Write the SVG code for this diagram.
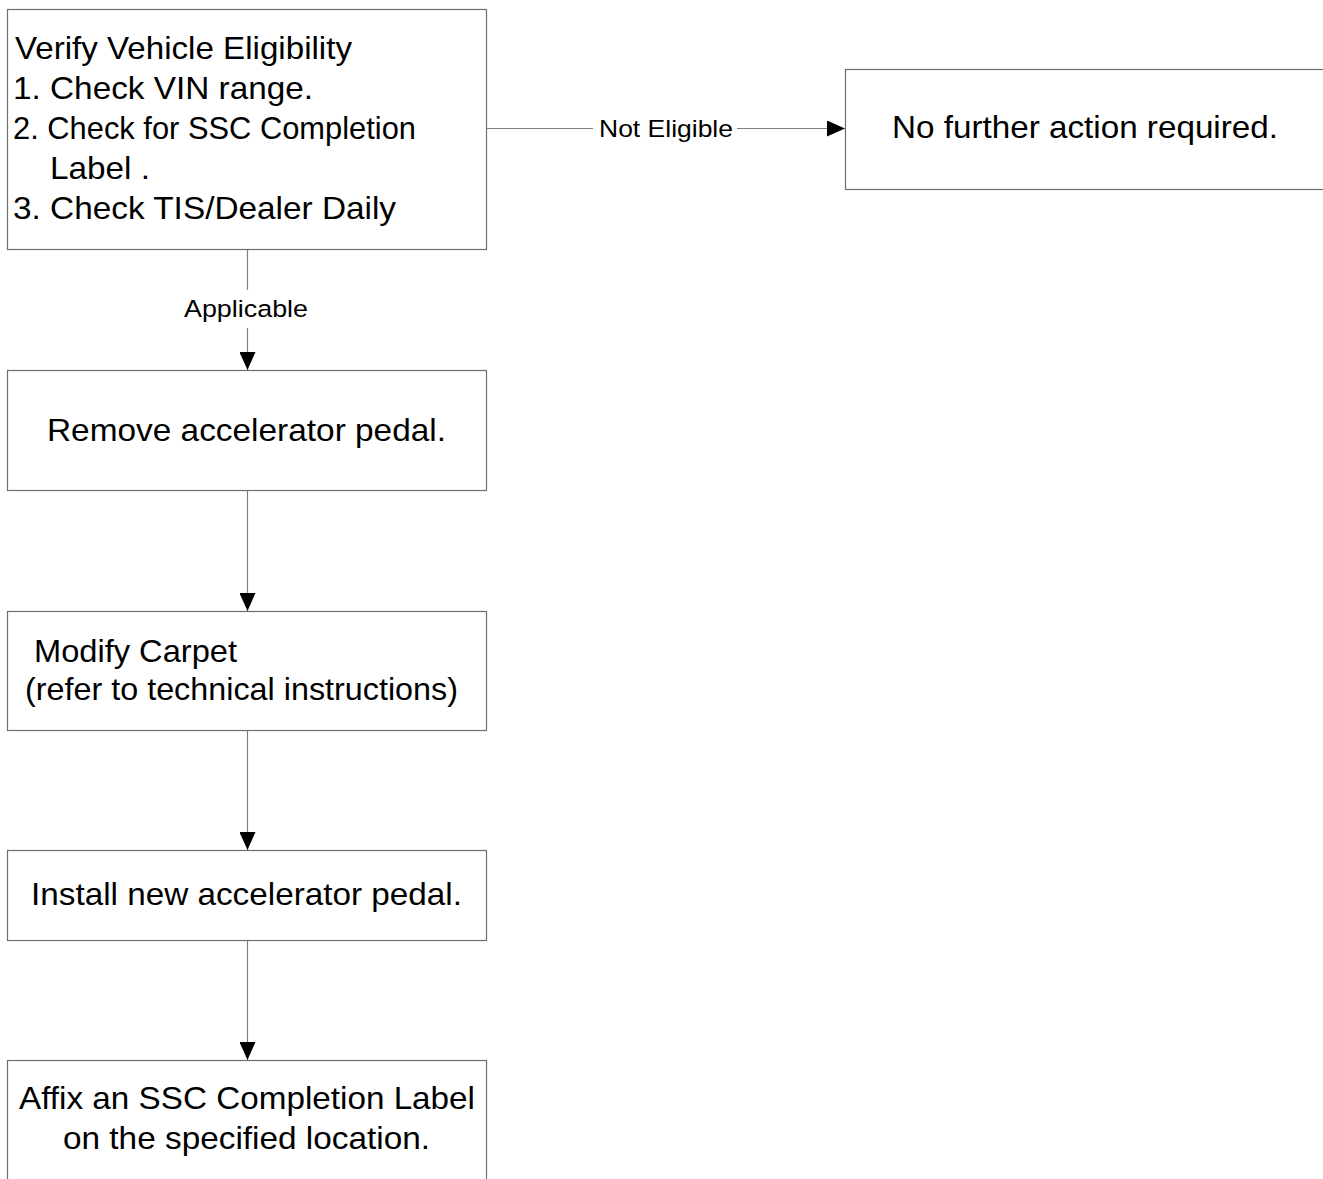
<svg xmlns="http://www.w3.org/2000/svg" width="1323" height="1179" viewBox="0 0 1323 1179">
<defs>
<style>
.box{fill:#fff;stroke:#6e6e6e;stroke-width:1.2}
.t{font-family:"Liberation Sans",Arial,sans-serif;font-size:32px;fill:#000}
.lbl{font-family:"Liberation Sans",Arial,sans-serif;font-size:24.5px;fill:#000}
.ln{stroke:#808080;stroke-width:1.2;fill:none}
</style>
<marker id="ah" markerWidth="18" markerHeight="16" refX="18" refY="8" orient="auto" markerUnits="userSpaceOnUse">
<path d="M0,0 L18,8 L0,16 Z" fill="#000"/>
</marker>
</defs>
<rect width="1323" height="1179" fill="#fff"/>
<g id="connectors">
<path class="ln" d="M486,128.5 H593"/>
<path class="ln" d="M737,128.5 H845" marker-end="url(#ah)"/>
<text class="lbl" x="599" y="137" textLength="134" lengthAdjust="spacingAndGlyphs">Not Eligible</text>
<path class="ln" d="M247.5,249 V290"/>
<path class="ln" d="M247.5,328 V370" marker-end="url(#ah)"/>
<text class="lbl" x="184" y="317" textLength="124" lengthAdjust="spacingAndGlyphs">Applicable</text>
<path class="ln" d="M247.5,490 V611" marker-end="url(#ah)"/>
<path class="ln" d="M247.5,730 V850" marker-end="url(#ah)"/>
<path class="ln" d="M247.5,940 V1060" marker-end="url(#ah)"/>
</g>
<g id="n1">
<rect class="box" x="7.5" y="9.5" width="479" height="240"/>
<text class="t" x="15" y="59" textLength="337" lengthAdjust="spacingAndGlyphs">Verify Vehicle Eligibility</text>
<text class="t" x="13" y="99" textLength="300" lengthAdjust="spacingAndGlyphs">1. Check VIN range.</text>
<text class="t" x="13" y="139" textLength="403" lengthAdjust="spacingAndGlyphs">2. Check for SSC Completion</text>
<text class="t" x="50" y="179" textLength="100" lengthAdjust="spacingAndGlyphs">Label .</text>
<text class="t" x="13" y="219" textLength="383" lengthAdjust="spacingAndGlyphs">3. Check TIS/Dealer Daily</text>
</g>
<g id="n2">
<rect class="box" x="845.5" y="69.5" width="480" height="120"/>
<text class="t" x="892" y="138" textLength="386" lengthAdjust="spacingAndGlyphs">No further action required.</text>
</g>
<g id="n3">
<rect class="box" x="7.5" y="370.5" width="479" height="120"/>
<text class="t" x="47" y="441" textLength="399" lengthAdjust="spacingAndGlyphs">Remove accelerator pedal.</text>
</g>
<g id="n4">
<rect class="box" x="7.5" y="611.5" width="479" height="119"/>
<text class="t" x="34" y="662" textLength="203" lengthAdjust="spacingAndGlyphs">Modify Carpet</text>
<text class="t" x="25" y="700" textLength="433" lengthAdjust="spacingAndGlyphs">(refer to technical instructions)</text>
</g>
<g id="n5">
<rect class="box" x="7.5" y="850.5" width="479" height="90"/>
<text class="t" x="31" y="905" textLength="431" lengthAdjust="spacingAndGlyphs">Install new accelerator pedal.</text>
</g>
<g id="n6">
<rect class="box" x="7.5" y="1060.5" width="479" height="130"/>
<text class="t" x="19" y="1109" textLength="456" lengthAdjust="spacingAndGlyphs">Affix an SSC Completion Label</text>
<text class="t" x="63" y="1149" textLength="367" lengthAdjust="spacingAndGlyphs">on the specified location.</text>
</g>
</svg>
